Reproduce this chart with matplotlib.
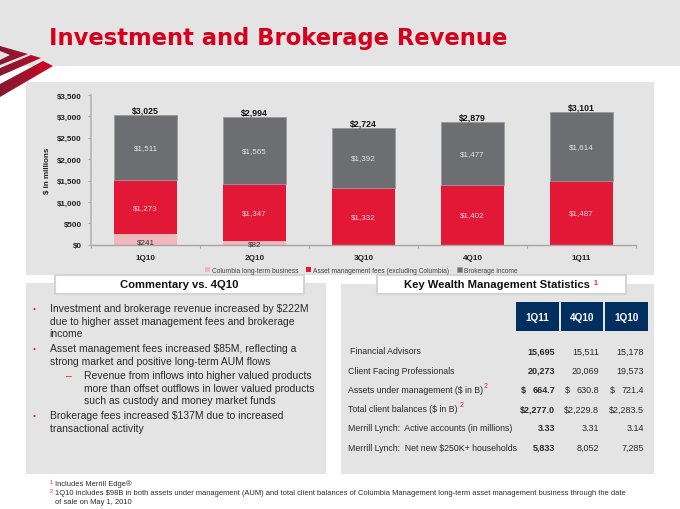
import matplotlib
matplotlib.use("Agg")
import matplotlib.pyplot as plt
from matplotlib.colors import LinearSegmentedColormap
from matplotlib.patches import Rectangle, Polygon
import numpy as np

# chart data
quarters = ["1Q10", "2Q10", "3Q10", "4Q10", "1Q11"]
columbia = [241, 82, 0, 0, 0]
asset_fees = [1273, 1347, 1332, 1402, 1487]
brokerage = [1511, 1565, 1392, 1477, 1614]
totals = [3025, 2994, 2724, 2879, 3101]
yticks = [0, 500, 1000, 1500, 2000, 2500, 3000, 3500]

# table data
table_cols = ["1Q11", "4Q10", "1Q10"]
table_rows = ["Financial Advisors", "Client Facing Professionals",
              "Assets under management ($ in B)", "Total client balances ($ in B)",
              "Merrill Lynch:  Active accounts (in millions)",
              "Merrill Lynch:  Net new $250K+ households"]
col_1q11 = ["15,695", "20,273", "664.7", "$2,277.0", "3.33", "5,833"]
col_4q10 = ["15,511", "20,069", "630.8", "$2,229.8", "3.31", "8,052"]
col_1q10 = ["15,178", "19,573", "721.4", "$2,283.5", "3.14", "7,285"]

GREY = "#6D6E71"
RED = "#E31837"
PINK = "#F0B7BC"
PANEL = "#E4E4E4"
TITLE = "#D6001C"
NAVY = "#012F60"
TXT = "#2A2A2A"

plt.rcParams["font.family"] = ["Liberation Sans", "DejaVu Sans"]

fig = plt.figure(figsize=(6.8, 5.1), dpi=100, facecolor="white")

# page layer in pixel coordinates
bg = fig.add_axes([0, 0, 1, 1])
bg.axis("off")


def box(x0, y0, x1, y1, fc, ec="none", lw=0, z=1):
    bg.add_patch(Rectangle((x0, y0), x1 - x0, y1 - y0, fc=fc, ec=ec, lw=lw, zorder=z))


box(0, 0, 680, 67, PANEL)
box(26, 83, 654, 276, PANEL)
box(26, 284, 326, 475, PANEL)
box(341, 285, 654, 475, PANEL)

# logo, dark red at the left running to bright red at the tip
flag_cmap = LinearSegmentedColormap.from_list("flag", ["#86182F", "#A3122E", "#DC001C"])
ramp = np.linspace(0, 1, 64).reshape(1, -1)
for pts in [
    [(0, 47), (28, 55), (0, 66), (0, 61), (10, 56), (0, 52)],
    [(0, 69), (31, 56), (41, 59), (0, 77)],
    [(0, 85), (43, 62), (53, 67), (0, 98)],
]:
    poly = Polygon(pts, closed=True, fc="none", ec="none", transform=bg.transData)
    bg.add_patch(poly)
    im = bg.imshow(ramp, cmap=flag_cmap, extent=(0, 53, 100, 45), aspect="auto", zorder=3)
    im.set_clip_path(poly)

bg.set_xlim(0, 680)
bg.set_ylim(510, 0)

bg.text(49, 38, "Investment and Brokerage Revenue", color=TITLE, fontsize=16.3,
        fontweight="bold", family="DejaVu Sans", va="center", ha="left")

# header boxes
box(54.5, 275.5, 304, 295, "white", ec="#D4D4D4", lw=1.5, z=4)
box(376.5, 276, 626, 295, "white", ec="#D4D4D4", lw=1.5, z=4)
bg.text(179, 285.5, "Commentary vs. 4Q10", fontsize=8.1, fontweight="bold",
        color="#111111", ha="center", va="center", zorder=5)
bg.text(497, 285.5, "Key Wealth Management Statistics", fontsize=8.1, fontweight="bold",
        color="#111111", ha="center", va="center", zorder=5)
bg.text(596, 283.5, "1", fontsize=5, fontweight="bold", color=RED, ha="center", va="center", zorder=5)

# commentary text
lines = [
    (49.5, 309.5, "Investment and brokerage revenue increased by $222M"),
    (49.5, 322, "due to higher asset management fees and brokerage"),
    (49.5, 334.5, "income"),
    (49.5, 349.5, "Asset management fees increased $85M, reflecting a"),
    (49.5, 362, "strong market and positive long-term AUM flows"),
    (83.5, 376.5, "Revenue from inflows into higher valued products"),
    (83.5, 389, "more than offset outflows in lower valued products"),
    (83.5, 401.5, "such as custody and money market funds"),
    (49.5, 416.5, "Brokerage fees increased $137M due to increased"),
    (49.5, 429, "transactional activity"),
]
for x, y, s in lines:
    bg.text(x, y, s, fontsize=7.45, color=TXT, ha="left", va="center")
for y in [309.5, 349.5, 416.5]:
    bg.text(34, y, "\u2022", fontsize=6, color=RED, ha="center", va="center")
bg.text(69, 376.5, "\u2013", fontsize=7.5, color=RED, ha="center", va="center")

# table header
for x0, x1, s in zip([516, 560.5, 605], [559, 603, 648], table_cols):
    box(x0, 303, x1, 332, NAVY, z=2)
    bg.text((x0 + x1) / 2, 318, s, color="white", fontsize=7.2, fontweight="bold",
            ha="center", va="center", zorder=3)


def tbl_text(x, y, s, ha="left", bold=False, fs=6.3):
    bg.text(x, y, s, fontsize=fs, color=TXT, ha=ha, va="center",
            fontweight="bold" if bold else "normal", zorder=3)


# table body
row_y = [352, 371.5, 390.5, 410, 429, 448.5]
row_x = [350, 348, 348, 348, 348, 348]
for x, y, s in zip(row_x, row_y, table_rows):
    tbl_text(x, y, s)
for col, xr, bold in [(col_1q11, 555, True), (col_4q10, 599, False), (col_1q10, 644, False)]:
    for y, s in zip(row_y, col):
        tbl_text(xr, y, s, ha="right", bold=bold, fs=6.5)
# dollar signs of the AUM row
for x, bold in [(523, True), (567.5, False), (612, False)]:
    tbl_text(x, row_y[2], "$", ha="center", bold=bold, fs=6.5)
bg.text(486, 387, "2", fontsize=5, color=RED, ha="center", va="center", zorder=3)
bg.text(462, 406, "2", fontsize=5, color=RED, ha="center", va="center", zorder=3)

# footnotes
bg.text(51.5, 482.5, "1", fontsize=3.8, color=RED, ha="center", va="center")
bg.text(55, 484, "Includes Merrill Edge\u00ae", fontsize=5.42, color=TXT, ha="left", va="center")
bg.text(51.5, 492, "2", fontsize=3.8, color=RED, ha="center", va="center")
bg.text(55, 493.5, "1Q10 includes $98B in both assets under management (AUM) and total client balances "
        "of Columbia Management long-term asset management business through the date",
        fontsize=5.42, color=TXT, ha="left", va="center")
bg.text(55, 502.5, "of sale on May 1, 2010", fontsize=5.42, color=TXT, ha="left", va="center")

# chart
ax = fig.add_axes([91 / 680, 1 - 245.7 / 510, 545 / 680, 149.7 / 510])
ax.patch.set_alpha(0)
xs = list(range(len(quarters)))
bw = 0.57
b1 = [a + b for a, b in zip(columbia, asset_fees)]
ax.bar(xs, columbia, bw, color=PINK, label="Columbia long-term business")
ax.bar(xs, asset_fees, bw, bottom=columbia, color=RED, label="Asset management fees (excluding Columbia)")
ax.bar(xs, brokerage, bw, bottom=b1, color=GREY, edgecolor="#9A9A9C", linewidth=0.6, label="Brokerage income")

for i in xs:
    ax.text(i, totals[i] + 10, f"${totals[i]:,}", ha="center", va="bottom", fontsize=6.3,
            fontweight="bold", color="#111111")
    ax.text(i, b1[i] + brokerage[i] * 0.5, f"${brokerage[i]:,}", ha="center",
            va="center", fontsize=5.8, color="#E4E4E4")
    ax.text(i, columbia[i] + asset_fees[i] * 0.5, f"${asset_fees[i]:,}", ha="center",
            va="center", fontsize=5.8, color="#F6D5D8")
    if columbia[i] > 0:
        ax.text(i, 60 if i == 0 else 5, f"${columbia[i]:,}", ha="center", va="center",
                fontsize=5.8, color="#333333")

ax.set_xlim(-0.5, 4.5)
ax.set_ylim(0, 3500)
ax.set_yticks(yticks)
ax.set_yticklabels([f"${v:,}" for v in yticks], fontsize=5.8, fontweight="bold", color="#222222")
ax.set_xticks([i + 0.5 for i in range(-1, 5)])
ax.set_xticklabels([])
for i, q in zip(xs, quarters):
    ax.text(i, -310, q, ha="center", va="center", fontsize=5.9, fontweight="bold", color="#222222")
ax.tick_params(axis="both", color="#A6A6A6", length=2.5, width=0.8, pad=4.2)
ax.spines["top"].set_visible(False)
ax.spines["right"].set_visible(False)
ax.spines["left"].set_color("#B5B5B5")
ax.spines["bottom"].set_color("#A6A6A6")
ax.spines["left"].set_linewidth(1.2)
ax.spines["bottom"].set_linewidth(1.0)
ax.set_ylabel("$ in millions", fontsize=5.8, fontweight="bold", color="#222222")
ax.yaxis.set_label_coords(-40 / 545, 0.5)

ax.legend(loc="upper center", bbox_to_anchor=(0.496, -0.125), ncol=3, frameon=False,
          fontsize=4.8, handlelength=0.8, handleheight=0.8, handletextpad=0.3,
          columnspacing=1.1, borderpad=0, labelcolor="#444444")

fig.savefig("out.png", dpi=100, facecolor="white")
